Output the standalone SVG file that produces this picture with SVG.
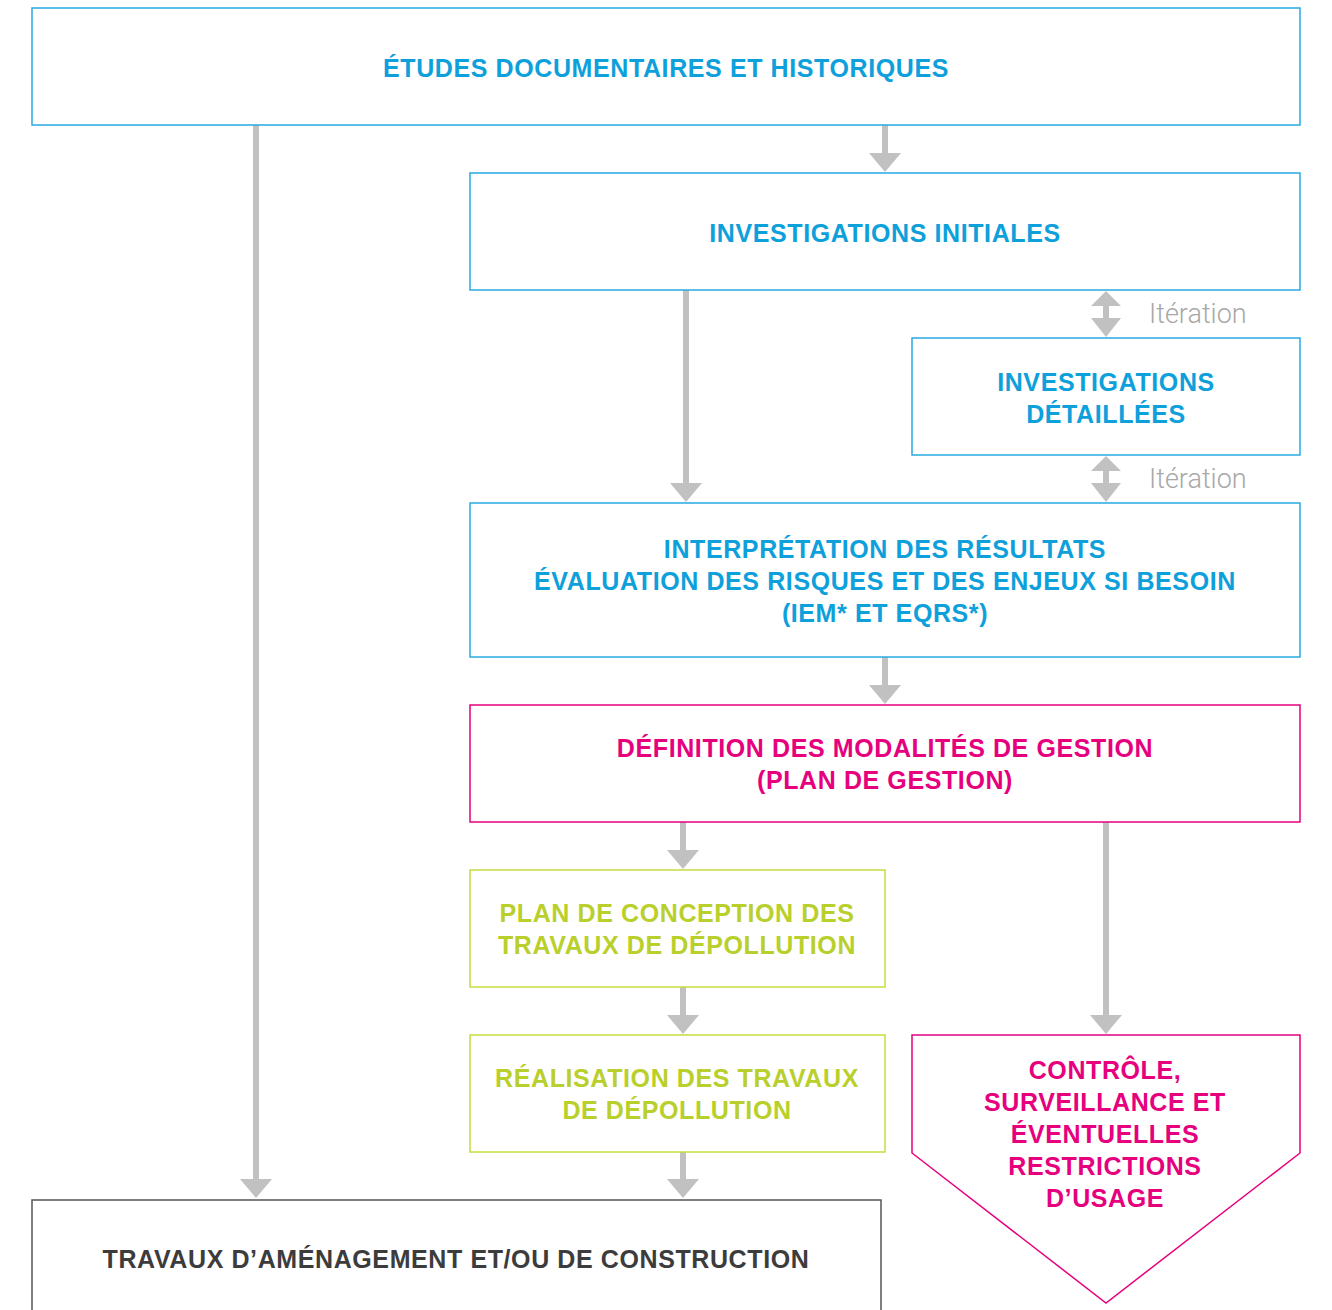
<svg xmlns="http://www.w3.org/2000/svg" width="1332" height="1310" viewBox="0 0 1332 1310">
<defs>
<style>
.box{fill:#fff;stroke-width:1.5}
.blue{stroke:#29abe2}
.pink{stroke:#e6007e}
.lime{stroke:#c8dc3c}
.gray{stroke:#555}
.t{font-family:"Liberation Sans",Arial,sans-serif;font-weight:bold;font-size:25px;letter-spacing:0.6px;text-anchor:middle}
.tb{fill:#0ea0db}
.tp{fill:#e6007e}
.tl{fill:#b9cf2c}
.tg{fill:#3c3c3c}
.it{font-family:Roboto,"Liberation Sans",sans-serif;font-weight:300;font-size:27px;fill:#a8a8a8}
.ln{stroke:#c1c1c1;stroke-width:6;fill:none}
.hd{fill:#c1c1c1}
</style>
</defs>
<g id="connectors">
<path class="ln" d="M885,125 V155"/><path class="hd" d="M869,153 H901 L885,172 Z"/>
<path class="ln" d="M256,125 V1181"/><path class="hd" d="M240,1179 H272 L256,1198 Z"/>
<path class="ln" d="M686,290 V485"/><path class="hd" d="M670,483 H702 L686,502 Z"/>
<path class="ln" d="M885,657 V687"/><path class="hd" d="M869,685 H901 L885,704 Z"/>
<path class="ln" d="M683,822 V852"/><path class="hd" d="M667,850 H699 L683,869 Z"/>
<path class="ln" d="M1106,822 V1017"/><path class="hd" d="M1090,1015 H1122 L1106,1034 Z"/>
<path class="ln" d="M683,987 V1017"/><path class="hd" d="M667,1015 H699 L683,1034 Z"/>
<path class="ln" d="M683,1152 V1181"/><path class="hd" d="M667,1179 H699 L683,1198 Z"/>
<path class="ln" d="M1106,304 V320"/><path class="hd" d="M1091,306 L1106,291 L1121,306 Z M1091,318 L1106,337 L1121,318 Z"/>
<path class="ln" d="M1106,469 V485"/><path class="hd" d="M1091,471 L1106,456 L1121,471 Z M1091,483 L1106,502 L1121,483 Z"/>
</g>
<g id="etudes"><rect class="box blue" x="32" y="8" width="1268" height="117"/><text class="t tb" x="666" y="77">ÉTUDES DOCUMENTAIRES ET HISTORIQUES</text></g>
<g id="inv-init"><rect class="box blue" x="470" y="173" width="830" height="117"/><text class="t tb" x="885" y="242">INVESTIGATIONS INITIALES</text></g>
<g id="iter1"><text class="it" x="1149" y="323">Itération</text></g>
<g id="inv-det"><rect class="box blue" x="912" y="338" width="388" height="117"/><text class="t tb" x="1106" y="391">INVESTIGATIONS</text><text class="t tb" x="1106" y="423">DÉTAILLÉES</text></g>
<g id="iter2"><text class="it" x="1149" y="488">Itération</text></g>
<g id="interp"><rect class="box blue" x="470" y="503" width="830" height="154"/><text class="t tb" x="885" y="558">INTERPRÉTATION DES RÉSULTATS</text><text class="t tb" x="885" y="590">ÉVALUATION DES RISQUES ET DES ENJEUX SI BESOIN</text><text class="t tb" x="885" y="622">(IEM* ET EQRS*)</text></g>
<g id="definition"><rect class="box pink" x="470" y="705" width="830" height="117"/><text class="t tp" x="885" y="757">DÉFINITION DES MODALITÉS DE GESTION</text><text class="t tp" x="885" y="789">(PLAN DE GESTION)</text></g>
<g id="plan"><rect class="box lime" x="470" y="870" width="415" height="117"/><text class="t tl" x="677" y="922">PLAN DE CONCEPTION DES</text><text class="t tl" x="677" y="954">TRAVAUX DE DÉPOLLUTION</text></g>
<g id="realisation"><rect class="box lime" x="470" y="1035" width="415" height="117"/><text class="t tl" x="677" y="1087">RÉALISATION DES TRAVAUX</text><text class="t tl" x="677" y="1119">DE DÉPOLLUTION</text></g>
<g id="travaux"><rect class="box gray" x="32" y="1200" width="849" height="130"/><text class="t tg" x="456" y="1268">TRAVAUX D’AMÉNAGEMENT ET/OU DE CONSTRUCTION</text></g>
<g id="controle"><path class="box pink" d="M912,1035 H1300 V1153 L1106,1303 L912,1153 Z"/><text class="t tp" x="1105" y="1079">CONTRÔLE,</text><text class="t tp" x="1105" y="1111">SURVEILLANCE ET</text><text class="t tp" x="1105" y="1143">ÉVENTUELLES</text><text class="t tp" x="1105" y="1175">RESTRICTIONS</text><text class="t tp" x="1105" y="1207">D’USAGE</text></g>
</svg>
